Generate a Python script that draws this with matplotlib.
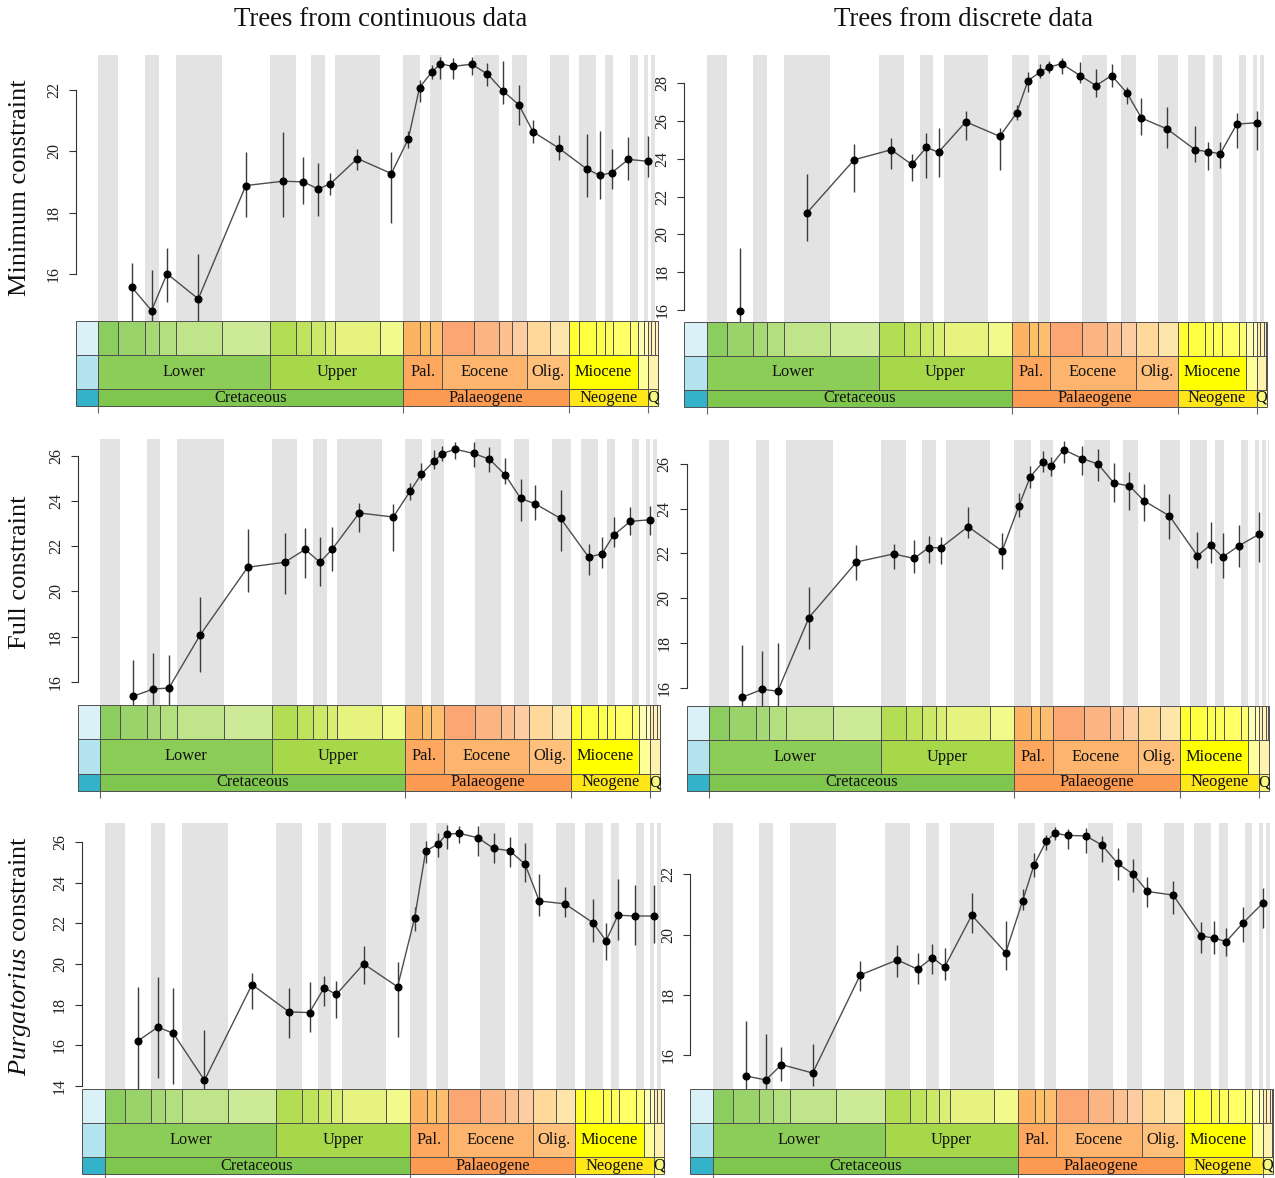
import numpy as np
import matplotlib
matplotlib.use('Agg')
import matplotlib.pyplot as plt
from matplotlib.patches import Rectangle

plt.rcParams['font.family'] = ['Liberation Serif', 'DejaVu Serif']
plt.rcParams['mathtext.fontset'] = 'custom'
plt.rcParams['mathtext.it'] = 'Liberation Serif:italic'
plt.rcParams['mathtext.rm'] = 'Liberation Serif'

# ---------------- data ----------------
ages = [136.4, 131.2, 127.2, 119.1, 106.8, 97.2, 91.9, 88.1, 84.95, 77.9, 69.1, 64.7,
        61.8, 58.6, 56.4, 53.1, 48.3, 44.2, 40.1, 36.1, 32.4, 25.75, 18.5, 15.1, 12.0,
        7.7, 2.55]

nan = np.nan
# Continuous data, minimum constraint
cmin_mean = [15.59, 14.82, 16.02, 15.20, 18.89, 19.03, 19.01, 18.78, 18.94, 19.77, 19.28, 20.41,
             22.08, 22.59, 22.85, 22.77, 22.84, 22.52, 21.96, 21.52, 20.64, 20.11, 19.43, 19.22,
             19.31, 19.74, 19.68]
cmin_lo = [14.40, 14.40, 15.10, 14.40, 17.88, 17.86, 18.29, 17.91, 18.59, 19.40, 17.68, 20.12,
           21.62, 22.35, 22.35, 22.35, 22.49, 22.14, 21.54, 20.86, 20.26, 19.72, 18.53, 18.46,
           18.77, 19.07, 19.16]
cmin_hi = [16.36, 16.14, 16.85, 16.65, 19.99, 20.64, 19.81, 19.63, 19.31, 20.08, 19.99, 20.67,
           22.33, 22.81, 23.08, 23.03, 23.08, 22.89, 22.95, 22.16, 21.02, 20.54, 20.57, 20.68,
           20.09, 20.48, 20.51]
# Discrete data, minimum constraint
dmin_mean = [15.93, nan, nan, 21.12, 23.95, 24.48, 23.70, 24.60, 24.35, 25.96, 25.19, 26.44,
             28.14, 28.60, 28.85, 29.04, 28.41, 27.88, 28.41, 27.47, 26.16, 25.58, 24.48, 24.37,
             24.27, 25.84, 25.91]
dmin_lo = [15.30, nan, nan, 19.63, 22.25, 23.45, 22.81, 22.99, 23.01, 24.99, 23.40, 26.05,
           27.56, 28.27, 28.53, 28.48, 28.00, 27.26, 27.79, 26.90, 25.26, 24.55, 23.84, 23.40,
           23.52, 24.55, 24.46]
dmin_hi = [19.29, nan, nan, 23.19, 24.76, 25.08, 24.28, 25.38, 25.61, 26.53, 25.65, 26.85,
           28.58, 29.01, 29.19, 29.33, 29.15, 28.76, 29.03, 27.82, 27.20, 26.76, 25.73, 24.88,
           24.87, 26.41, 26.55]
# Continuous data, full constraint
cfull_mean = [15.37, 15.69, 15.73, 18.08, 21.07, 21.29, 21.86, 21.29, 21.86, 23.47, 23.29, 24.44,
              25.19, 25.75, 26.09, 26.29, 26.10, 25.85, 25.15, 24.11, 23.88, 23.23, 21.52, 21.66,
              22.49, 23.10, 23.17]
cfull_lo = [14.80, 14.80, 14.80, 16.46, 19.99, 19.87, 20.58, 20.24, 20.92, 22.64, 21.80, 24.04,
            24.92, 25.40, 25.76, 25.85, 25.51, 25.29, 24.75, 23.13, 23.16, 21.80, 20.73, 21.02,
            21.98, 22.49, 22.49]
cfull_hi = [16.97, 17.30, 17.19, 19.74, 22.75, 22.57, 22.82, 22.42, 22.86, 23.92, 23.86, 24.78,
            25.66, 26.25, 26.43, 26.62, 26.59, 26.40, 25.88, 24.97, 24.70, 24.48, 22.08, 22.39,
            23.28, 23.75, 23.79]
# Discrete data, full constraint
dfull_mean = [15.58, 15.93, 15.85, 19.14, 21.62, 21.98, 21.78, 22.26, 22.26, 23.20, 22.11, 24.14,
              25.43, 26.07, 25.93, 26.64, 26.24, 25.99, 25.14, 25.02, 24.36, 23.68, 21.90, 22.38,
              21.84, 22.35, 22.86]
dfull_lo = [15.00, 15.00, 15.00, 17.73, 20.81, 21.29, 21.11, 21.59, 21.53, 22.68, 21.29, 23.65,
            24.91, 25.63, 25.48, 26.03, 25.51, 25.24, 24.29, 23.94, 23.45, 22.65, 21.34, 21.56,
            20.89, 21.41, 21.63]
dfull_hi = [17.91, 17.64, 18.02, 20.51, 22.38, 22.41, 22.60, 22.78, 22.75, 24.09, 22.90, 24.72,
            25.93, 26.58, 26.33, 27.03, 26.82, 26.67, 26.03, 25.66, 25.11, 24.64, 22.97, 23.39,
            22.90, 23.27, 23.87]
# Continuous data, Purgatorius constraint
cpurg_mean = [16.20, 16.89, 16.59, 14.27, 18.99, 17.64, 17.61, 18.83, 18.50, 20.01, 18.88, 22.25,
              25.57, 25.92, 26.41, 26.44, 26.23, 25.70, 25.59, 24.93, 23.11, 22.97, 22.04, 21.15,
              22.41, 22.37, 22.37]
cpurg_lo = [13.86, 14.36, 14.11, 13.70, 17.78, 16.33, 16.63, 17.94, 17.35, 19.04, 16.41, 21.64,
            24.96, 25.29, 25.65, 25.95, 25.33, 24.96, 24.80, 24.06, 22.37, 22.30, 21.10, 20.19,
            21.18, 20.93, 21.05]
cpurg_hi = [18.88, 19.37, 18.84, 16.74, 19.54, 18.84, 19.13, 19.40, 19.16, 20.88, 20.08, 22.79,
            26.07, 26.44, 26.86, 26.82, 26.81, 26.48, 26.25, 25.95, 24.42, 23.78, 23.19, 22.00,
            24.17, 23.89, 23.92]
# Discrete data, Purgatorius constraint
dpurg_mean = [15.31, 15.18, 15.69, 15.41, 18.66, 19.16, 18.85, 19.24, 18.92, 20.64, 19.40, 21.13,
              22.30, 23.10, 23.36, 23.29, 23.27, 22.97, 22.36, 22.00, 21.43, 21.31, 19.96, 19.88,
              19.77, 20.38, 21.04]
dpurg_lo = [14.70, 14.70, 15.13, 14.99, 18.13, 18.61, 18.36, 18.69, 18.50, 20.04, 18.81, 20.82,
            21.92, 22.81, 23.14, 22.83, 22.70, 22.42, 21.81, 21.40, 20.91, 20.69, 19.40, 19.36,
            19.30, 19.77, 20.21]
dpurg_hi = [17.14, 16.70, 16.27, 16.36, 19.14, 19.66, 19.38, 19.69, 19.55, 21.37, 20.46, 21.50,
            22.72, 23.30, 23.56, 23.50, 23.52, 23.27, 22.88, 22.51, 21.92, 21.78, 20.41, 20.46,
            20.21, 20.93, 21.54]

col_titles = ['Trees from continuous data', 'Trees from discrete data']
row_labels = ['Minimum constraint', 'Full constraint', r'$\mathit{Purgatorius}$ constraint']

# ---------------- geological timescale ----------------
stage_bounds = [145.0, 139.8, 132.9, 129.4, 125.0, 113.0, 100.5, 93.9, 89.8, 86.3, 83.6, 72.1,
                66.0, 61.6, 59.2, 56.0, 47.8, 41.2, 37.8, 33.9, 28.1, 23.03, 20.44, 15.97,
                13.82, 11.63, 7.246, 5.333, 3.6, 2.58, 1.8, 0.781, 0.126, 0.0117, 0.0]
stage_colors = ['#8CCD60', '#99D36A', '#A6D975', '#B3DF7F', '#BFE48A', '#CCEA97',
                '#B3DE53', '#BFE35D', '#CCE968', '#D9EF74', '#E6F47F', '#F2FA8C',
                '#FDB462', '#FEBF65', '#FDBF6F', '#FCA773', '#FCB482', '#FDC091', '#FDCDA1',
                '#FED99A', '#FEE6AA',
                '#FFFF33', '#FFFF41', '#FFFF4D', '#FFFF59', '#FFFF66', '#FFFF73',
                '#FFFFB3', '#FFFFBF', '#FFEDB3', '#FFF2BA', '#FFF2C7', '#FFF2D3', '#FEF2E0']
epoch_names = ['Lower', 'Upper', 'Pal.', 'Eocene', 'Olig.', 'Miocene', '', '', '']
epoch_bounds = [145.0, 100.5, 66.0, 56.0, 33.9, 23.03, 5.333, 2.58, 0.0117, 0.0]
epoch_colors = ['#8CCD57', '#A6D84A', '#FDA75F', '#FDB46C', '#FEC07A', '#FFFF00',
                '#FFFF99', '#FFF2AE', '#FEF2E0']
period_names = ['Cretaceous', 'Palaeogene', 'Neogene', 'Q']
period_bounds = [145.0, 66.0, 23.03, 2.58, 0.0]
period_colors = ['#7FC64E', '#FD9A52', '#FFE619', '#F9F97F']
jurassic_colors = ['#D9F1F7', '#B3E3EE', '#34B2C9']  # stage, epoch, period rows

# ---------------- layout (pixels) ----------------
W, H = 1275, 1178
PX_PER_MY = 3.861
LEFT_PAD = 22.5
XLEFT = 145.0 + LEFT_PAD / PX_PER_MY

panels = [
    # (row, col, x of 145 Ma, grey top, timescale top, timescale bottom, mean, lo, hi, ylim, yticks)
    (0, 0, 98.3, 55.0, 321.0, 406.0, cmin_mean, cmin_lo, cmin_hi, (14.48, 23.14), [16, 18, 20, 22]),
    (0, 1, 706.7, 55.0, 321.5, 406.5, dmin_mean, dmin_lo, dmin_hi, (15.38, 29.50), [16, 18, 20, 22, 24, 26, 28]),
    (1, 0, 100.2, 439.0, 705.0, 790.7, cfull_mean, cfull_lo, cfull_hi, (14.98, 26.74), [16, 18, 20, 22, 24, 26]),
    (1, 1, 709.0, 440.0, 705.7, 790.7, dfull_mean, dfull_lo, dfull_hi, (15.20, 27.07), [16, 18, 20, 22, 24, 26]),
    (2, 0, 104.5, 823.3, 1089.0, 1174.0, cpurg_mean, cpurg_lo, cpurg_hi, (13.84, 26.94), [14, 16, 18, 20, 22, 24, 26]),
    (2, 1, 712.7, 823.3, 1089.0, 1174.0, dpurg_mean, dpurg_lo, dpurg_hi, (14.88, 23.69), [16, 18, 20, 22]),
]

fig = plt.figure(figsize=(W / 100, H / 100), dpi=100)
EDGE = '#505050'

for row, col, cx, gtop, ttop, tbot, mean, lo, hi, ylim, yticks in panels:
    left = (cx - LEFT_PAD) / W
    width = (LEFT_PAD + 145.0 * PX_PER_MY) / W
    ax = fig.add_axes([left, 1 - ttop / H, width, (ttop - gtop) / H])
    ax.set_xlim(XLEFT, 0)
    ax.set_ylim(*ylim)
    for i in range(len(stage_bounds) - 1):
        if i % 2 == 0:
            ax.axvspan(stage_bounds[i], stage_bounds[i + 1], color='#e3e3e3', lw=0, zorder=0)
    a = np.array(ages); m = np.array(mean, float); l = np.array(lo, float); h = np.array(hi, float)
    ok = ~np.isnan(m)
    ax.vlines(a[ok], l[ok], h[ok], color='#3c3c3c', lw=1.0, zorder=2)
    ax.plot(a, m, color='#4d4d4d', lw=1.0, zorder=3)
    ax.plot(a[ok], m[ok], 'o', color='black', ms=4.8, zorder=4)
    for s in ['top', 'right', 'bottom']:
        ax.spines[s].set_visible(False)
    ax.spines['left'].set_bounds(yticks[0], yticks[-1])
    ax.spines['left'].set_color('#333333')
    ax.spines['left'].set_linewidth(0.8)
    ax.set_xticks([])
    ax.set_yticks(yticks)
    ax.set_yticklabels([str(t) for t in yticks], rotation=90, va='center')
    ax.tick_params(axis='y', direction='out', length=5, width=0.8, labelsize=11.5,
                   pad=5, colors='#333333', labelcolor='#222222')

    # timescale
    tax = fig.add_axes([left, 1 - tbot / H, width, (tbot - ttop) / H])
    tax.set_xlim(XLEFT, 0)
    tax.set_ylim(0, 5)
    rows = [(3, 2), (1, 2), (0, 1)]  # (y0, height) for stage, epoch, period
    for (y0, hgt), jc in zip(rows, jurassic_colors):
        tax.add_patch(Rectangle((XLEFT, y0), 145.0 - XLEFT, hgt, facecolor=jc,
                                edgecolor=EDGE, lw=0.7, clip_on=False))
    for i in range(len(stage_bounds) - 1):
        tax.add_patch(Rectangle((stage_bounds[i + 1], 3), stage_bounds[i] - stage_bounds[i + 1], 2,
                                facecolor=stage_colors[i], edgecolor=EDGE, lw=0.7, clip_on=False))
    for i in range(len(epoch_bounds) - 1):
        tax.add_patch(Rectangle((epoch_bounds[i + 1], 1), epoch_bounds[i] - epoch_bounds[i + 1], 2,
                                facecolor=epoch_colors[i], edgecolor=EDGE, lw=0.7, clip_on=False))
        if epoch_names[i]:
            tax.text((epoch_bounds[i] + epoch_bounds[i + 1]) / 2, 2.0, epoch_names[i],
                     ha='center', va='center', fontsize=11.8, color='#111111')
    for i in range(len(period_bounds) - 1):
        tax.add_patch(Rectangle((period_bounds[i + 1], 0), period_bounds[i] - period_bounds[i + 1], 1,
                                facecolor=period_colors[i], edgecolor=EDGE, lw=0.7, clip_on=False))
        tax.text((period_bounds[i] + period_bounds[i + 1]) / 2, 0.5, period_names[i],
                 ha='center', va='center', fontsize=11.8, color='#111111')
    for s in tax.spines.values():
        s.set_visible(False)
    tax.set_yticks([])
    tax.set_xticks(period_bounds[:-1])
    tax.set_xticklabels([])
    tax.tick_params(axis='x', direction='out', length=5, width=0.8, colors='#666666')

    if col == 0:
        fig.text(20 / W, 1 - ((gtop + ttop) / 2) / H, row_labels[row], rotation=90,
                 ha='center', va='center', fontsize=19, color='#111111')

fig.text(381 / W, 1 - 20 / H, col_titles[0], ha='center', va='center', fontsize=19.4, color='#111111')
fig.text(964 / W, 1 - 20 / H, col_titles[1], ha='center', va='center', fontsize=19.4, color='#111111')

fig.savefig('out.png', dpi=100)
